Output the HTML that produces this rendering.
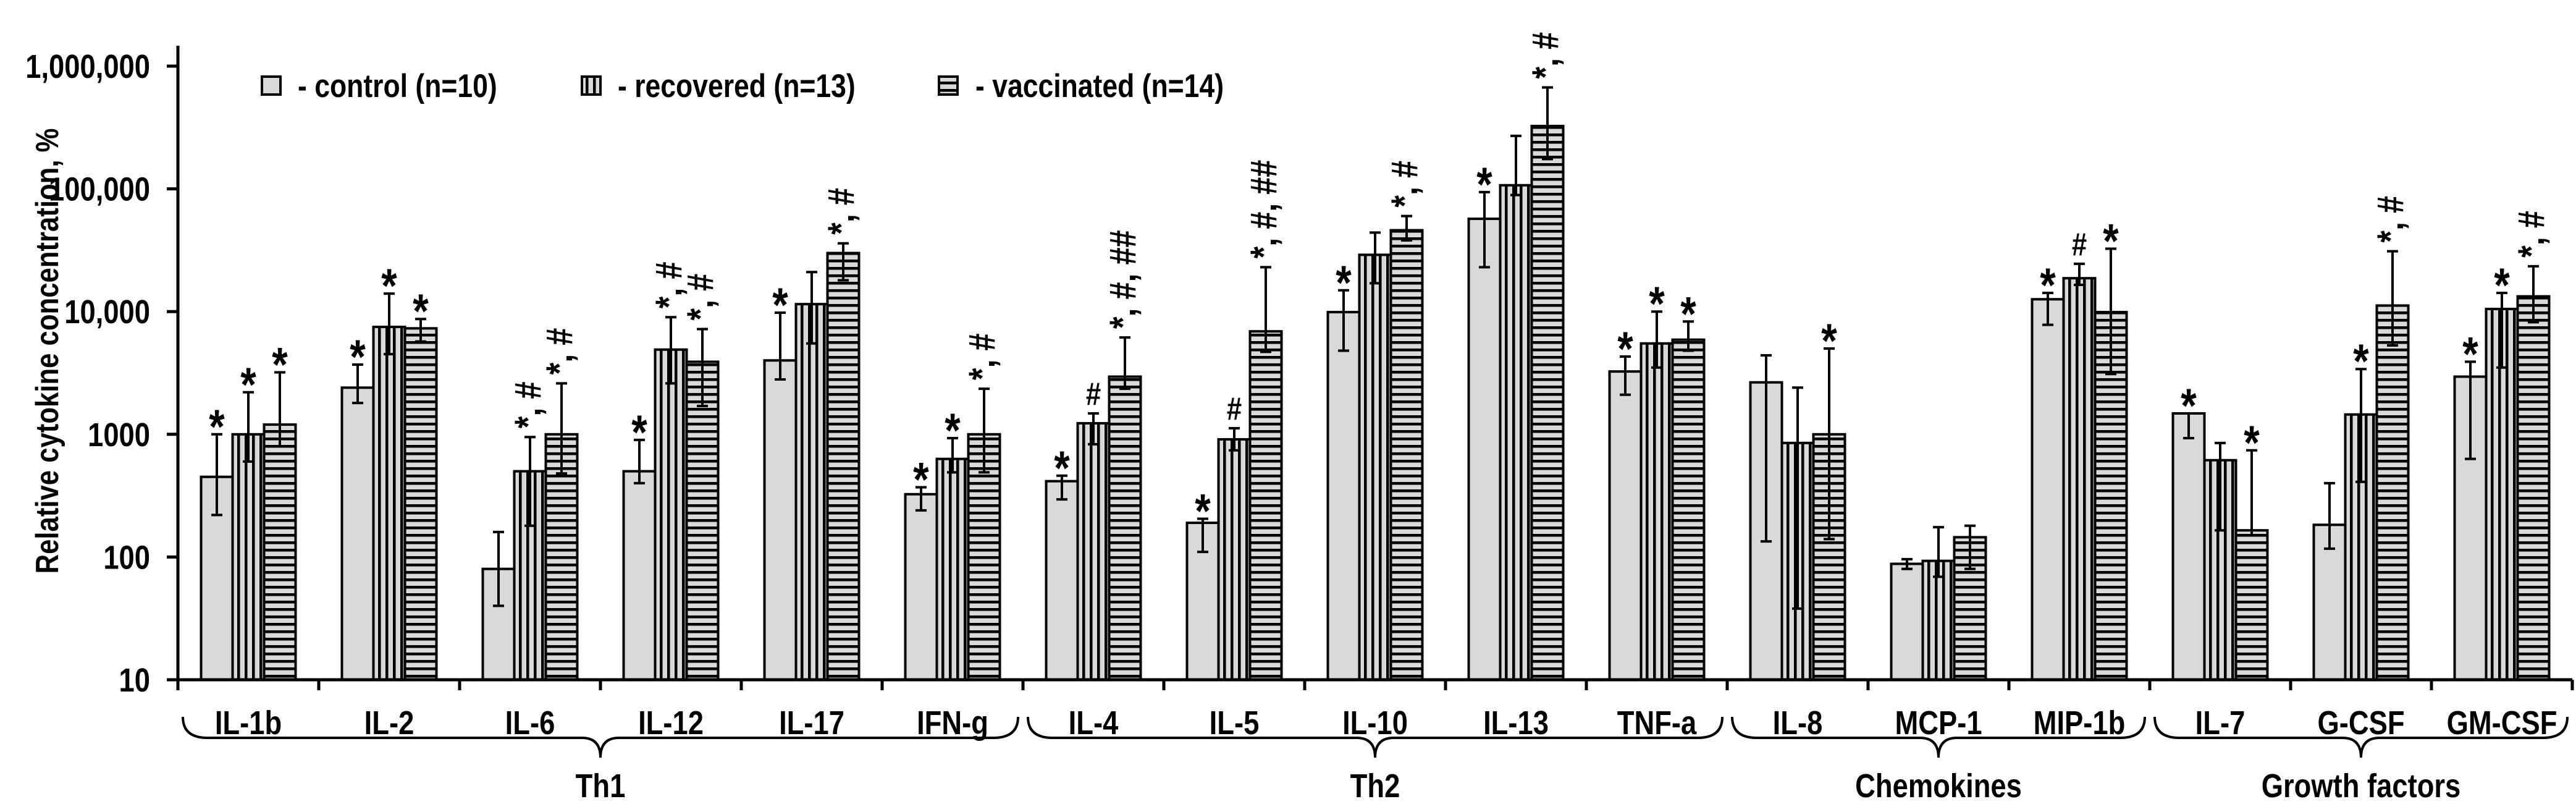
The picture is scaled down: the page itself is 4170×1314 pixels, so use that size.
<!DOCTYPE html>
<html><head><meta charset="utf-8"><style>
html,body{margin:0;padding:0;background:#fff;overflow:hidden;}
svg{display:block;}
text{font-family:"Liberation Sans Narrow","Liberation Sans",sans-serif;font-weight:bold;fill:#000;}
</style></head><body>
<svg id="chart" width="4170" height="1314" viewBox="0 0 4170 1314" xmlns="http://www.w3.org/2000/svg">
<defs>
<pattern id="vstripe" patternUnits="userSpaceOnUse" width="12" height="12"><rect width="12" height="12" fill="#d9d9d9"/><rect x="0" width="4.5" height="12" fill="#000"/></pattern>
<pattern id="hstripe" patternUnits="userSpaceOnUse" width="12" height="12"><rect width="12" height="12" fill="#d9d9d9"/><rect y="0" width="12" height="4.5" fill="#000"/></pattern>
</defs>
<g id="plot"></g>
</svg>
<script>
const categories=["IL-1b","IL-2","IL-6","IL-12","IL-17","IFN-g","IL-4","IL-5","IL-10","IL-13","TNF-a","IL-8","MCP-1","MIP-1b","IL-7","G-CSF","GM-CSF"];
const controlVals=[450,2400,80,500,4000,325,415,190,9900,57000,3250,2650,88,12600,1480,183,2950];
const controlLo=[220,1800,40,400,2800,240,295,110,4800,23000,2100,134,80,7800,930,117,630];
const controlHi=[1000,3700,160,900,9800,370,460,205,14900,94000,4300,4400,96,14200,1480,400,3900];
const recoveredVals=[1000,7500,500,4900,11500,630,1230,910,29000,107000,5500,850,93,18700,615,1450,10500];
const recoveredLo=[600,4500,180,2600,5500,490,830,740,17000,89000,3500,38,69,16500,165,410,3500];
const recoveredHi=[2200,14000,950,9000,21000,930,1480,1120,44000,270000,10000,2400,175,24500,850,3400,14200];
const vaccinatedVals=[1200,7300,1000,3900,30000,1000,2950,6900,46000,325000,5900,1000,145,9900,165,11200,13300];
const vaccinatedLo=[800,5700,480,1700,18000,490,2350,4700,38000,175000,4800,140,80,3100,150,5300,8200];
const vaccinatedHi=[3200,8700,2600,7200,36000,2350,6150,23000,60000,670000,8300,5000,180,32500,740,31000,23400];
const controlMarks=["*","*","","*","*","*","*","*","*","*","*","","","*","*","","*"];
const recoveredMarks=["*","*","*, #","*, #","","*","#","#","","","*","","","#","","*","*"];
const vaccinatedMarks=["*","*","*, #","*, #","*, #","*, #","*, #, ##","*, #, ##","*, #","*, #","*","*","","*","*","*, #","*, #"];
const yTicks=[10,100,1000,10000,100000,1000000];
const yTickLabels=["10","100","1000","10,000","100,000","1,000,000"];
const groups=[{name:"Th1",from:0,to:5},{name:"Th2",from:6,to:10},{name:"Chemokines",from:11,to:13},{name:"Growth factors",from:14,to:16}];

const NS="http://www.w3.org/2000/svg";
const g=document.getElementById('plot');
const X0=288,X1=4164,Y0=1100,Ytop=107;
const catW=(X1-X0)/categories.length, barW=51, SX=0.84;
function yScale(v){return Y0-(Math.log10(v)-1)*(Y0-Ytop)/5;}
function xCat(i){return X0+i*catW;}
function mk(tag,attrs,name,inter){const e=document.createElementNS(NS,tag);for(const k in attrs)e.setAttribute(k,attrs[k]);


g.appendChild(e);return e;}
function txt(x,y,s,size,name,anchor,rot){
 const tr='translate('+x+','+y+')'+(rot?' rotate(-90)':'')+' scale('+SX+',1)';
 const t=mk('text',{x:0,y:0,'font-size':size,'text-anchor':anchor||'middle',transform:tr},name,false);t.textContent=s;return t;}

yTicks.forEach((v,i)=>{const y=yScale(v);
 mk('line',{x1:270,x2:X0,y1:y,y2:y,stroke:'#000','stroke-width':5},'y-tick',false);
 txt(243,y+19,yTickLabels[i],54,'y-tick-label','end');
});
txt(94,568,"Relative cytokine concentration, %",52,'y-axis-title','middle',true);

const series=[{vals:controlVals,lo:controlLo,hi:controlHi,marks:controlMarks,fill:'#d9d9d9',name:'control'},
{vals:recoveredVals,lo:recoveredLo,hi:recoveredHi,marks:recoveredMarks,fill:'url(#vstripe)',name:'recovered'},
{vals:vaccinatedVals,lo:vaccinatedLo,hi:vaccinatedHi,marks:vaccinatedMarks,fill:'url(#hstripe)',name:'vaccinated'}];
categories.forEach((c,i)=>{
 const gx=xCat(i)+(catW-3*barW)/2;
 series.forEach((s,k)=>{
  const x=gx+k*barW, y=yScale(s.vals[i]);
  mk('rect',{x:x,y:y,width:barW,height:Y0-y,fill:s.fill,stroke:'#000','stroke-width':4},'bar-'+s.name+'-'+c,false);
  const cx=x+barW/2, yh=yScale(s.hi[i]), yl=yScale(s.lo[i]);
  mk('line',{x1:cx,x2:cx,y1:yh,y2:yl,stroke:'#000','stroke-width':4},'error-bar',false);
  mk('line',{x1:cx-9,x2:cx+9,y1:yh,y2:yh,stroke:'#000','stroke-width':4},'error-cap',false);
  mk('line',{x1:cx-9,x2:cx+9,y1:yl,y2:yl,stroke:'#000','stroke-width':4},'error-cap',false);
  const m=s.marks[i];
  if(m){
   if(m.indexOf(',')<0){
     if(m==='*') txt(cx,yh+14,m,78,'significance-mark','middle');
     else txt(cx,yh-14,m,52,'significance-mark','middle');
   } else {
     txt(cx+17,yh-14,m,60,'significance-mark','start',true);
   }
  }
 });
 txt(xCat(i)+catW/2,1188,c,54,'category-label','middle');
});
mk('line',{x1:X0,x2:X1,y1:Y0,y2:Y0,stroke:'#000','stroke-width':5},'x-axis',false);
mk('line',{x1:X0,x2:X0,y1:74,y2:Y0+15,stroke:'#000','stroke-width':5},'y-axis',false);
for(let i=0;i<=categories.length;i++){mk('line',{x1:xCat(i),x2:xCat(i),y1:Y0,y2:Y0+17,stroke:'#000','stroke-width':5},'x-tick',false);}
groups.forEach(gr=>{
 const a=xCat(gr.from)+8,b=xCat(gr.to+1)-8,m=(a+b)/2,top=1160,mid=1194,bot=1226;
 const d=`M${a},${top} Q${a},${mid} ${a+40},${mid} L${m-30},${mid} Q${m},${mid} ${m},${bot} Q${m},${mid} ${m+30},${mid} L${b-40},${mid} Q${b},${mid} ${b},${top}`;
 mk('path',{d:d,fill:'none',stroke:'#000','stroke-width':4},'group-brace',false);
 txt(m,1290,gr.name,54,'group-label','middle');
});
const leg=[{x:424,tx:482,fill:'#d9d9d9',s:'- control (n=10)'},{x:942,tx:1000,fill:'url(#vstripe)',s:'- recovered (n=13)'},{x:1520,tx:1579,fill:'url(#hstripe)',s:'- vaccinated (n=14)'}];
leg.forEach(l=>{
 mk('rect',{x:l.x,y:124,width:30,height:29,fill:l.fill,stroke:'#000','stroke-width':4},'legend-swatch',false);
 txt(l.tx,157,l.s,53,'legend-entry','start');
});
</script>
</body></html>
